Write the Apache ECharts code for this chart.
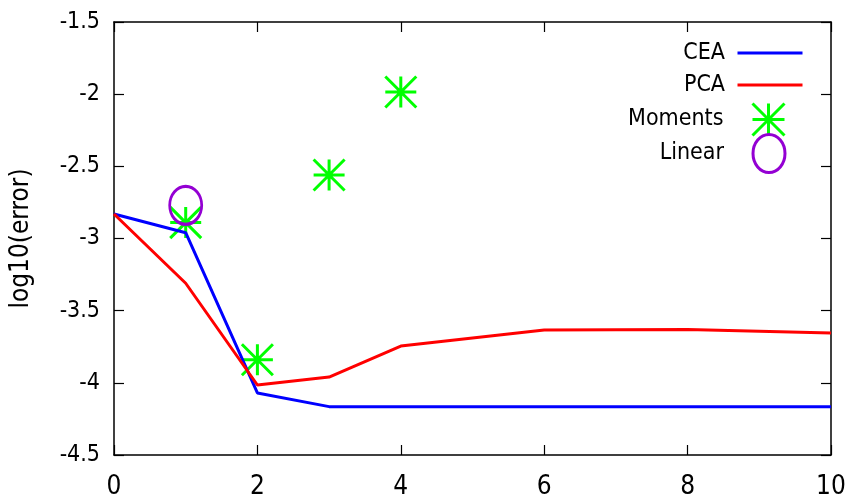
<!DOCTYPE html>
<html>
<head>
<meta charset="utf-8">
<script src="https://cdn.jsdelivr.net/npm/echarts@6/dist/echarts.min.js"></script>
<style>html,body{margin:0;padding:0;background:#fff;}#c{width:850px;height:500px;}</style>
</head>
<body>
<div id="c"></div>
<script>
// Data
const lineX = [0, 1, 2, 3, 4, 6, 8, 10];
const ceaY = [-2.83, -2.96, -4.07, -4.165, -4.165, -4.165, -4.165, -4.165];
const pcaY = [-2.83, -3.31, -4.015, -3.96, -3.745, -3.634, -3.63, -3.655];
const momentsX = [1, 2, 3, 4];
const momentsY = [-2.89, -3.84, -2.56, -1.985];
const linearX = [1];
const linearY = [-2.77];
const xTicks = [0, 2, 4, 6, 8, 10];
const yTicks = [-4.5, -4, -3.5, -3, -2.5, -2, -1.5];
const seriesNames = ['CEA', 'PCA', 'Moments', 'Linear'];

const zip = (xs, ys) => xs.map((x, i) => [x, ys[i]]);
const FONT = '"DejaVu Sans Condensed", "DejaVu Sans", sans-serif';
const STAR = 'path://M0,-1L0,1M-1,0L1,0M-1,-1L1,1M-1,1L1,-1';
// ellipse 32 x 38 (half-axes 16, 19)
const ELLIPSE = 'path://M0,-19C8.837,-19,16,-10.494,16,0C16,10.494,8.837,19,0,19C-8.837,19,-16,10.494,-16,0C-16,-10.494,-8.837,-19,0,-19Z';

function lineIcon(h) {
  const c = h / 2;
  return 'path://M0,0L0.01,0M0,' + (c - 1.5) + 'L65,' + (c - 1.5) + 'L65,' + (c + 1.5) + 'L0,' + (c + 1.5) + 'ZM65,' + h + 'L64.99,' + h;
}

const axisBase = {
  type: 'value',
  axisLine: { show: true, onZero: false, lineStyle: { color: '#000', width: 1.5 } },
  axisTick: { show: true, inside: true, length: 10, lineStyle: { color: '#000', width: 1.2 } },
  splitLine: { show: false }
};

// legend entry: icon centred at x=770, text right edge at x~725
function legendFor(name, centerY, w, h, extra) {
  const iconRight = 770 + w / 2;
  const gap = (770 - w / 2) - 725 - 5;
  return {
    orient: 'vertical', align: 'right', right: 850 - iconRight, top: centerY - h / 2, padding: 0,
    itemWidth: w, itemHeight: h, itemGap: 0,
    textStyle: { color: '#000', fontSize: 23, fontFamily: FONT, padding: [0, gap, 0, 0] },
    data: [Object.assign({ name: name }, extra)]
  };
}

const chart = echarts.init(document.getElementById('c'), null, { renderer: 'canvas' });
chart.setOption({
  animation: false,
  backgroundColor: '#fff',
  textStyle: { fontFamily: FONT },
  grid: { left: 112, right: 19, top: 22, bottom: 45, containLabel: false },
  xAxis: [
    Object.assign({}, axisBase, {
      position: 'bottom', min: xTicks[0], max: xTicks[xTicks.length - 1], interval: 2,
      axisLabel: { color: '#000', fontSize: 26, fontFamily: FONT, margin: 19 }
    }),
    Object.assign({}, axisBase, {
      position: 'top', min: xTicks[0], max: xTicks[xTicks.length - 1], interval: 2,
      axisLabel: { show: false }
    })
  ],
  yAxis: [
    Object.assign({}, axisBase, {
      position: 'left', min: yTicks[0], max: yTicks[yTicks.length - 1], interval: 0.5,
      name: 'log10(error)', nameLocation: 'middle', nameGap: 80, nameRotate: 90,
      nameTextStyle: { color: '#000', fontSize: 26, fontFamily: FONT },
      axisLabel: { color: '#000', fontSize: 23, fontFamily: FONT, margin: 14 }
    }),
    Object.assign({}, axisBase, {
      position: 'right', min: yTicks[0], max: yTicks[yTicks.length - 1], interval: 0.5,
      axisLabel: { show: false }
    })
  ],
  legend: [
    legendFor(seriesNames[0], 53, 65, 30, { icon: lineIcon(30) }),
    legendFor(seriesNames[1], 85, 65, 30, { icon: lineIcon(30) }),
    legendFor(seriesNames[2], 118, 32, 32, { itemStyle: { borderWidth: 3 } }),
    legendFor(seriesNames[3], 152, 33, 38, { icon: ELLIPSE, itemStyle: { borderWidth: 3 } })
  ],
  series: [
    { name: seriesNames[0], type: 'line', data: zip(lineX, ceaY), symbol: 'none', symbolKeepAspect: true,
      lineStyle: { color: '#0000ff', width: 3 }, itemStyle: { color: '#0000ff' } },
    { name: seriesNames[1], type: 'line', data: zip(lineX, pcaY), symbol: 'none', symbolKeepAspect: true,
      lineStyle: { color: '#ff0000', width: 3 }, itemStyle: { color: '#ff0000' } },
    { name: seriesNames[2], type: 'scatter', data: zip(momentsX, momentsY), symbol: STAR,
      symbolSize: 31, symbolKeepAspect: false,
      itemStyle: { color: 'transparent', borderColor: '#00ff00', borderWidth: 3, opacity: 1 } },
    { name: seriesNames[3], type: 'scatter', data: zip(linearX, linearY), symbol: ELLIPSE,
      symbolSize: [32, 38], symbolKeepAspect: false,
      itemStyle: { color: 'transparent', borderColor: '#9400d3', borderWidth: 3, opacity: 1 } }
  ]
});
</script>
</body>
</html>
